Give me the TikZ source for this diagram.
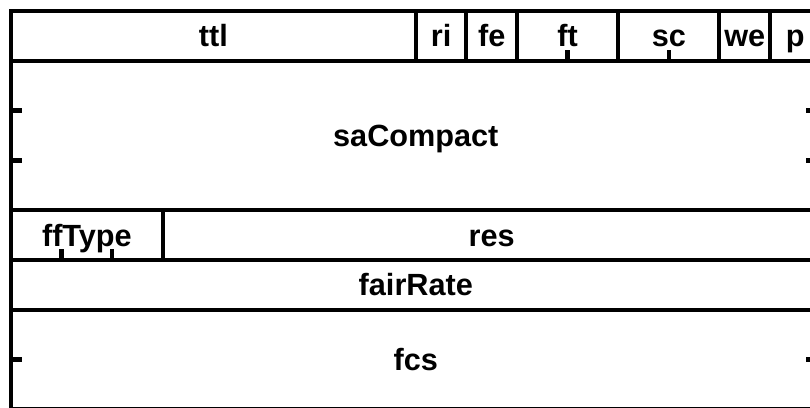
\documentclass[tikz,border=0pt]{standalone}
\usepackage{fontspec}
\setmainfont{Liberation Sans}
\begin{document}
\begin{tikzpicture}[x=37.95pt,y=-37.35pt,
  field/.style 2 args={draw=black,line width=3pt,rectangle,inner sep=0pt,outer sep=0pt,
    anchor=north west,minimum width=#1*37.95pt,minimum height=#2*37.35pt,
    text height=16.4pt,text depth=0pt,
    font=\fontsize{23}{28}\selectfont\bfseries},
  tickmark/.style={draw=black,line width=3.4pt}]
\clip (-0.2174,-0.2209) rectangle (15.79,7.952);
% row 0
\node[field={8}{1}] (ttl) at (0,0) {ttl};
\node[field={1}{1}] (ri)  at (8,0) {ri};
\node[field={1}{1}] (fe)  at (9,0) {fe};
\node[field={2}{1}] (ft)  at (10,0) {ft};
\node[field={2}{1}] (sc)  at (12,0) {sc};
\node[field={1}{1}] (we)  at (14,0) {we};
\node[field={1}{1}] (p)   at (15,0) {p};
% row 1
\node[field={16}{3}] (saCompact) at (0,1) {saCompact};
% row 2
\node[field={3}{1}] (ffType) at (0,4) {ffType};
\node[field={13}{1}] (res)   at (3,4) {res};
% row 3
\node[field={16}{1}] (fairRate) at (0,5) {fairRate};
% row 4
\node[field={16}{2}] (fcs) at (0,6) {fcs};
% tick marks
\draw[tickmark] (11,1) -- ++(0,-0.22);
\draw[tickmark] (13,1) -- ++(0,-0.22);
\draw[tickmark] (0,2) -- ++(0.22,0);
\draw[tickmark] (0,3) -- ++(0.22,0);
\draw[tickmark] (16,2) -- ++(-0.29,0);
\draw[tickmark] (16,3) -- ++(-0.29,0);
\draw[tickmark] (1,5) -- ++(0,-0.22);
\draw[tickmark] (2,5) -- ++(0,-0.22);
\draw[tickmark] (0,7) -- ++(0.22,0);
\draw[tickmark] (16,7) -- ++(-0.29,0);
\end{tikzpicture}
\end{document}
